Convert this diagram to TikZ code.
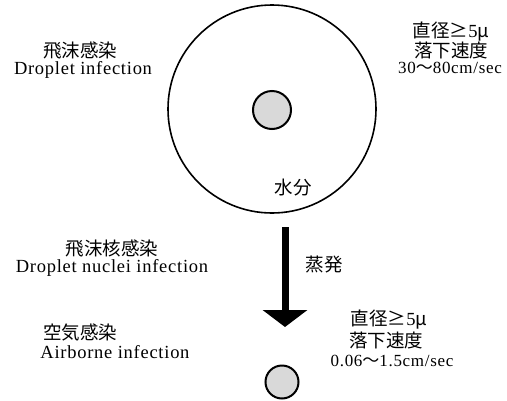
\documentclass[tikz,border=0pt]{standalone}
\usepackage{fontspec}
\usetikzlibrary{arrows.meta}
\setmainfont{Liberation Serif}[LetterSpace=4]
\newfontfamily\jp{Noto Sans CJK JP}
\begin{document}
\begin{tikzpicture}[x=1pt,y=-1pt,
  jp/.style={font=\jp\fontsize{18.5}{20}\selectfont, inner sep=0pt},
  en/.style={font=\fontsize{18.5}{20}\selectfont, inner sep=0pt},
  num/.style={font=\fontsize{17}{18}\selectfont, inner sep=0pt},
  ring/.style={draw, circle, line width=1.6pt, inner sep=0pt},
  core/.style={ring, fill=gray!30, line width=2pt}]
\useasboundingbox (0,0) rectangle (507,400);
% drops
\node[ring, minimum size=208pt] (big) at (272,109) {};
\node[core, minimum size=38pt] (nucleus) at (272,110) {};
\node[core, minimum size=33pt] (small) at (282,382) {};
\node[jp] (water) at (293,188) {水分};
% arrow
\coordinate (atop) at (285,227);
\coordinate (abot) at (285,327);
\draw[line width=7pt, -{Triangle[width=44pt,length=17pt]}] (atop) -- (abot);
\node[jp] (evap) at (324,265) {蒸発};
% left labels
\node[jp] (l1j) at (80,51) {飛沫感染};
\node[en] (l1e) at (83,70) {Droplet infection};
\node[jp] (l2j) at (112,249) {飛沫核感染};
\node[en] (l2e) at (112,268) {Droplet nuclei infection};
\node[jp] (l3j) at (80,332) {空気感染};
\node[en] (l3e) at (115,352) {Airborne infection};
% right labels top
\node[jp] (r1a) at (451,32) {直径≥{\rmfamily 5}μ};
\node[jp] (r1b) at (451,50) {落下速度};
\node[num] (r1c) at (450,68) {30{\jp 〜}80cm/sec};
% right labels bottom
\node[jp] (r2a) at (389,320) {直径≥{\rmfamily 5}μ};
\node[jp] (r2b) at (386,340) {落下速度};
\node[num] (r2c) at (392,361) {0.06{\jp 〜}1.5cm/sec};
\end{tikzpicture}
\end{document}
